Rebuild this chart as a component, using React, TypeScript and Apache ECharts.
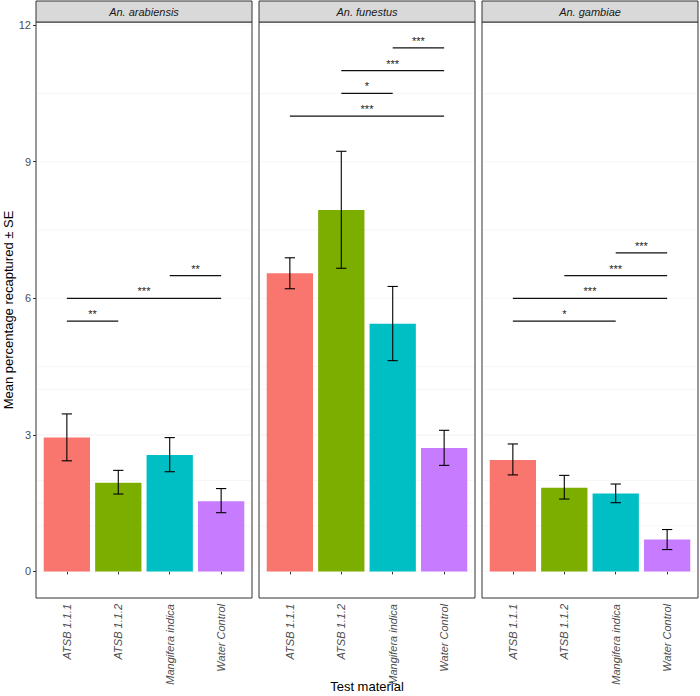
import React, { useEffect, useRef } from 'react';
import * as echarts from 'echarts';

const species = ['An. arabiensis', 'An. funestus', 'An. gambiae'];
const categories = ['ATSB 1.1.1', 'ATSB 1.1.2', 'Mangifera indica', 'Water Control'];
const barColors = ['#F8766D', '#7CAE00', '#00BFC4', '#C77CFF'];
const xTitle = 'Test material';
const yTitle = 'Mean percentage recaptured ± SE';

const meanArabiensis = [2.94, 1.95, 2.56, 1.54];
const lowArabiensis = [2.43, 1.70, 2.19, 1.29];
const highArabiensis = [3.46, 2.22, 2.94, 1.82];

const meanFunestus = [6.55, 7.94, 5.44, 2.71];
const lowFunestus = [6.21, 6.66, 4.63, 2.33];
const highFunestus = [6.89, 9.23, 6.26, 3.10];

const meanGambiae = [2.45, 1.84, 1.71, 0.70];
const lowGambiae = [2.12, 1.59, 1.51, 0.48];
const highGambiae = [2.80, 2.11, 1.92, 0.92];

// [from category, to category, height, label]
const sigArabiensis: [number, number, number, string][] = [
  [1, 2, 5.5, '**'],
  [1, 4, 6.0, '***'],
  [3, 4, 6.5, '**'],
];
const sigFunestus: [number, number, number, string][] = [
  [1, 4, 10.0, '***'],
  [2, 3, 10.5, '*'],
  [2, 4, 11.0, '***'],
  [3, 4, 11.5, '***'],
];
const sigGambiae: [number, number, number, string][] = [
  [1, 3, 5.5, '*'],
  [1, 4, 6.0, '***'],
  [2, 4, 6.5, '***'],
  [3, 4, 7.0, '***'],
];

const yTicks = [0, 3, 6, 9, 12];
const yMinor = [1.5, 4.5, 7.5, 10.5];
const xTicks = [1, 2, 3, 4];

const means = [meanArabiensis, meanFunestus, meanGambiae];
const lows = [lowArabiensis, lowFunestus, lowGambiae];
const highs = [highArabiensis, highFunestus, highGambiae];
const sigs = [sigArabiensis, sigFunestus, sigGambiae];

const X_MIN = 0.4;
const X_MAX = 4.6;
const Y_MIN = -0.584;
const Y_MAX = 12.07;

const FONT = '"Liberation Sans", Arial, Helvetica, sans-serif';

const panels = [
  { left: 36, width: 216 },
  { left: 259, width: 216 },
  { left: 482, width: 216 },
];
const GRID_TOP = 22;
const GRID_H = 576;
const STRIP_TOP = 1;

export default function App() {
  const ref = useRef<HTMLDivElement>(null);

  useEffect(() => {
    if (!ref.current) return;
    const chart = echarts.init(ref.current, undefined, { renderer: 'svg' });

    const series: any[] = [];
    panels.forEach((_, i) => {
      // grid lines
      series.push({
        type: 'custom',
        xAxisIndex: i,
        yAxisIndex: i,
        silent: true,
        z: 1,
        data: [
          ...yMinor.map((v) => ['hmin', v]),
          ...yTicks.map((v) => ['h', v]),
          ...xTicks.map((v) => ['v', v]),
        ],
        renderItem: (params: any, api: any) => {
          const kind = api.value(0);
          const v = api.value(1);
          const cs = params.coordSys;
          if (kind === 'v') {
            const x = api.coord([v, 0])[0];
            return {
              type: 'line',
              shape: { x1: x, y1: cs.y + 1, x2: x, y2: cs.y + cs.height - 1 },
              style: { stroke: '#ebebeb', lineWidth: 1 },
            };
          }
          const y = api.coord([1, v])[1];
          return {
            type: 'line',
            shape: { x1: cs.x + 1, y1: y, x2: cs.x + cs.width - 1, y2: y },
            style: { stroke: kind === 'h' ? '#ebebeb' : '#f4f4f4', lineWidth: kind === 'h' ? 1 : 0.8 },
          };
        },
      });
      // bars
      series.push({
        type: 'custom',
        xAxisIndex: i,
        yAxisIndex: i,
        z: 2,
        data: means[i].map((m, k) => [k + 1, m]),
        renderItem: (params: any, api: any) => {
          const x = api.value(0);
          const m = api.value(1);
          const p0 = api.coord([x - 0.45, 0]);
          const p1 = api.coord([x + 0.45, m]);
          return {
            type: 'rect',
            shape: { x: p0[0], y: p1[1], width: p1[0] - p0[0], height: p0[1] - p1[1] },
            style: { fill: barColors[params.dataIndex] },
          };
        },
      });
      // error bars
      series.push({
        type: 'custom',
        xAxisIndex: i,
        yAxisIndex: i,
        z: 3,
        data: lows[i].map((lo, k) => [k + 1, lo, highs[i][k]]),
        renderItem: (params: any, api: any) => {
          const x = api.value(0);
          const lo = api.coord([x, api.value(1)]);
          const hi = api.coord([x, api.value(2)]);
          const l = api.coord([x - 0.1, 0])[0];
          const r = api.coord([x + 0.1, 0])[0];
          const st = { stroke: '#000', lineWidth: 1.1 };
          return {
            type: 'group',
            children: [
              { type: 'line', shape: { x1: lo[0], y1: lo[1], x2: hi[0], y2: hi[1] }, style: st },
              { type: 'line', shape: { x1: l, y1: lo[1], x2: r, y2: lo[1] }, style: st },
              { type: 'line', shape: { x1: l, y1: hi[1], x2: r, y2: hi[1] }, style: st },
            ],
          };
        },
      });
      // significance
      series.push({
        type: 'custom',
        xAxisIndex: i,
        yAxisIndex: i,
        z: 4,
        data: sigs[i].map((s) => [s[0], s[1], s[2], s[3]]),
        renderItem: (params: any, api: any) => {
          const a = api.coord([api.value(0), api.value(2)]);
          const b = api.coord([api.value(1), api.value(2)]);
          const label = sigs[i][params.dataIndex][3];
          return {
            type: 'group',
            children: [
              {
                type: 'line',
                shape: { x1: a[0], y1: a[1], x2: b[0], y2: b[1] },
                style: { stroke: '#111', lineWidth: 1.2 },
              },
              {
                type: 'text',
                x: (a[0] + b[0]) / 2,
                y: a[1] - 7,
                style: {
                  text: label,
                  fill: '#222',
                  fontSize: 11,
                  fontFamily: FONT,
                  align: 'center',
                  verticalAlign: 'middle',
                },
              },
            ],
          };
        },
      });
    });

    const graphics: any[] = [];
    panels.forEach((p, i) => {
      graphics.push({
        type: 'rect',
        shape: { x: p.left, y: STRIP_TOP, width: p.width, height: GRID_TOP - STRIP_TOP },
        style: { fill: '#d9d9d9', stroke: '#333333', lineWidth: 1 },
        z: 10,
      });
      graphics.push({
        type: 'text',
        x: p.left + p.width / 2,
        y: (STRIP_TOP + GRID_TOP) / 2 + 0.5,
        style: {
          text: species[i],
          fill: '#1a1a1a',
          fontSize: 11,
          fontStyle: 'italic',
          fontFamily: FONT,
          align: 'center',
          verticalAlign: 'middle',
        },
        z: 11,
      });
    });
    graphics.push({
      type: 'text',
      x: panels[1].left + panels[1].width / 2,
      y: 686,
      style: {
        text: xTitle,
        fill: '#000',
        fontSize: 13,
        fontFamily: FONT,
        align: 'center',
        verticalAlign: 'middle',
      },
      z: 11,
    });

    chart.setOption({
      animation: false,
      backgroundColor: '#ffffff',
      textStyle: { fontFamily: FONT },
      grid: panels.map((p) => ({
        left: p.left,
        top: GRID_TOP,
        width: p.width,
        height: GRID_H,
        show: true,
        borderColor: '#333333',
        borderWidth: 1,
        backgroundColor: '#ffffff',
        containLabel: false,
        outerBoundsMode: 'none',
      })),
      xAxis: panels.map((_, i) => ({
        gridIndex: i,
        type: 'value',
        min: X_MIN,
        max: X_MAX,
        splitLine: { show: false },
        axisLine: { show: false },
        axisTick: {
          show: true,
          customValues: xTicks,
          length: 3,
          lineStyle: { color: '#333333' },
        },
        axisLabel: {
          customValues: xTicks,
          formatter: (v: number) => categories[Math.round(v) - 1] ?? '',
          rotate: 90,
          fontStyle: 'italic',
          fontSize: 11,
          color: '#4d4d4d',
          margin: 6,
          fontFamily: FONT,
        },
      })),
      yAxis: panels.map((_, i) => ({
        gridIndex: i,
        type: 'value',
        min: Y_MIN,
        max: Y_MAX,
        splitLine: { show: false },
        axisLine: { show: false },
        axisTick: {
          show: i === 0,
          customValues: yTicks,
          length: 3,
          lineStyle: { color: '#333333' },
        },
        axisLabel: {
          show: i === 0,
          customValues: yTicks,
          fontSize: 11,
          color: '#4d4d4d',
          margin: 5,
          fontFamily: FONT,
        },
        name: i === 0 ? yTitle : '',
        nameLocation: 'middle',
        nameGap: 20,
        nameRotate: 90,
        nameTextStyle: { fontSize: 13, color: '#000', fontFamily: FONT },
      })),
      series,
      graphic: graphics,
    });

    return () => chart.dispose();
  }, []);

  return (
    <div
      ref={ref}
      style={{ position: 'fixed', left: 0, top: 0, width: 700, height: 696, background: '#fff' }}
    />
  );
}
